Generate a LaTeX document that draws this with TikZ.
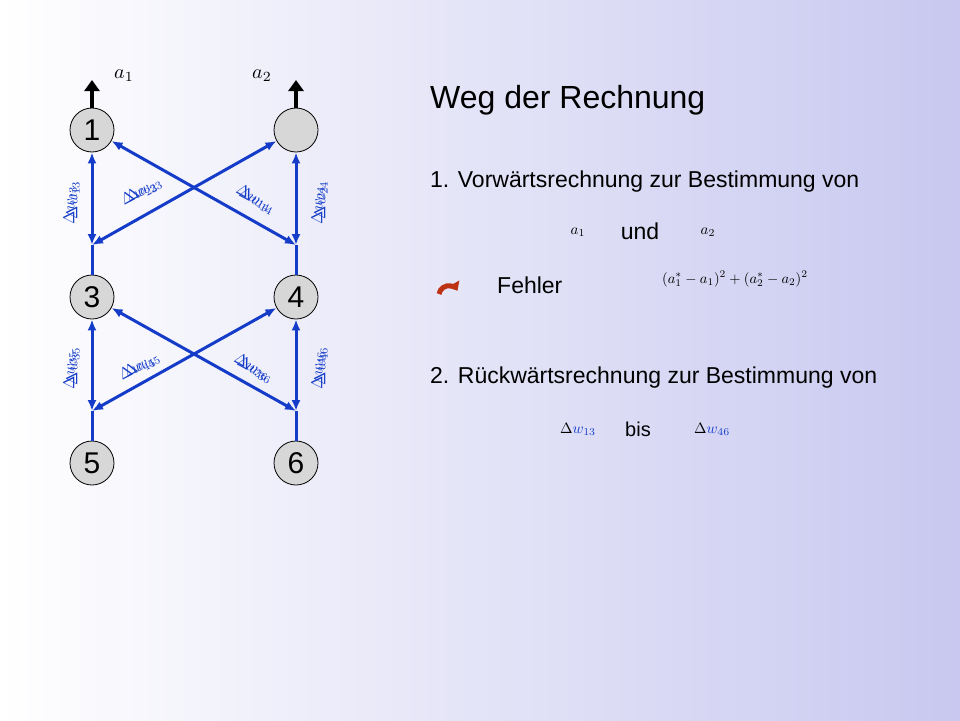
\documentclass[tikz,border=0pt]{standalone}
\usepackage{fontspec}
\usepackage{graphicx}
\setmainfont{Liberation Sans}
\usetikzlibrary{arrows.meta}
\definecolor{eb}{RGB}{20,60,200}
\definecolor{nodegray}{RGB}{215,215,215}
\definecolor{redarr}{RGB}{190,50,20}
\newcommand{\scm}[2]{\scalebox{#1}{$#2$}}
\tikzset{
  neuron/.style={circle,draw=black,line width=0.8pt,fill=nodegray,minimum size=44pt,inner sep=0pt,font=\fontsize{30}{32}\selectfont},
  edge/.style={draw=eb,line width=3pt,{Latex[length=11pt,width=9pt]}-{Latex[length=11pt,width=9pt]}},
  plain/.style={draw=eb,line width=3pt},
  outarr/.style={draw=black,line width=4pt,-{Triangle[length=11pt,width=15pt]}},
  wl/.style={text=eb,inner sep=0pt},
  txt/.style={anchor=west,font=\fontsize{23}{26}\selectfont,inner sep=0pt},
  mth/.style={inner sep=0pt}
}
\begin{document}
\begin{tikzpicture}[x=1pt,y=-1pt]
\shade[left color=white,right color={rgb,255:red,200;green,200;blue,240}] (0,0) rectangle (960,720);
\useasboundingbox (0,0) rectangle (960,720);
\node[neuron] (n1) at (92,130) {1};
\node[neuron] (n2) at (296,130) {};
\node[neuron] (n3) at (92,297) {3};
\node[neuron] (n4) at (296,297) {4};
\node[neuron] (n5) at (92,463) {5};
\node[neuron] (n6) at (296,463) {6};
\coordinate (j3) at (92,245);
\coordinate (j4) at (296,245);
\coordinate (j5) at (92,411);
\coordinate (j6) at (296,411);
\coordinate (o1) at (92,80);
\coordinate (o2) at (296,80);
\draw[outarr] (n1) -- (o1);
\draw[outarr] (n2) -- (o2);
\node[mth] (la1) at (124,76) {\scm{2}{a_1}};
\node[mth] (la2) at (262,76) {\scm{2}{a_2}};
% layer 1
\draw[edge] (n1) -- (j3);
\draw[plain] (j3) -- (n3);
\draw[edge] (n2) -- (j4);
\draw[plain] (j4) -- (n4);
\draw[edge] (n1) -- (j4);
\draw[edge] (n2) -- (j3);
% layer 2
\draw[edge] (n3) -- (j5);
\draw[plain] (j5) -- (n5);
\draw[edge] (n4) -- (j6);
\draw[plain] (j6) -- (n6);
\draw[edge] (n3) -- (j6);
\draw[edge] (n4) -- (j5);
% labels (doubled, slightly offset)
\node[wl,rotate=90] (l13a) at (70,205) {\scm{1.6}{\Delta w_{13}}};
\node[wl,rotate=90] (l13b) at (73,200) {\scm{1.6}{\Delta w_{13}}};
\node[wl,rotate=90] (l24a) at (318,205) {\scm{1.6}{\Delta w_{24}}};
\node[wl,rotate=90] (l24b) at (321,200) {\scm{1.6}{\Delta w_{24}}};
\node[wl,rotate=28] (l23a) at (139,193) {\scm{1.6}{\Delta w_{23}}};
\node[wl,rotate=28] (l23b) at (144,190) {\scm{1.6}{\Delta w_{23}}};
\node[wl,rotate=-28] (l14a) at (254,198) {\scm{1.6}{\Delta w_{14}}};
\node[wl,rotate=-28] (l14b) at (257,201) {\scm{1.6}{\Delta w_{14}}};
\node[wl,rotate=90] (l35a) at (70,370) {\scm{1.6}{\Delta w_{35}}};
\node[wl,rotate=90] (l35b) at (73,366) {\scm{1.6}{\Delta w_{35}}};
\node[wl,rotate=90] (l46a) at (318,370) {\scm{1.6}{\Delta w_{46}}};
\node[wl,rotate=90] (l46b) at (321,366) {\scm{1.6}{\Delta w_{46}}};
\node[wl,rotate=28] (l45a) at (137,368) {\scm{1.6}{\Delta w_{45}}};
\node[wl,rotate=28] (l45b) at (142,365) {\scm{1.6}{\Delta w_{45}}};
\node[wl,rotate=-28] (l36a) at (252,367) {\scm{1.6}{\Delta w_{36}}};
\node[wl,rotate=-28] (l36b) at (255,370) {\scm{1.6}{\Delta w_{36}}};
% right text
\node[txt,font=\fontsize{32}{36}\selectfont] (title) at (430,100) {Weg der Rechnung};
\node[txt] (t1) at (430,182) {1. Vorwärtsrechnung zur Bestimmung von};
\node[mth] (ma1) at (578,232) {\scm{1.5}{a_1}};
\node[mth,font=\fontsize{23}{26}\selectfont] (und) at (640,231) {und};
\node[mth] (ma2) at (708,232) {\scm{1.5}{a_2}};
\draw[redarr,line width=5pt,-{Triangle[length=8pt,width=13pt]}] (439,294) arc[start angle=170,end angle=30,radius=10pt];
\node[txt] (fehler) at (497,285) {Fehler};
\node[mth] (form) at (735,279) {\scm{1.45}{(a_1^*-a_1)^2+(a_2^*-a_2)^2}};
\node[txt] (t2) at (430,378) {2. Rückwärtsrechnung zur Bestimmung von};
\node[mth] (d13) at (578,429) {\scm{1.5}{\Delta\textcolor{eb}{w_{13}}}};
\node[mth,font=\fontsize{20}{24}\selectfont] (bis) at (638,429) {bis};
\node[mth] (d46) at (712,429) {\scm{1.5}{\Delta\textcolor{eb}{w_{46}}}};
\end{tikzpicture}
\end{document}
